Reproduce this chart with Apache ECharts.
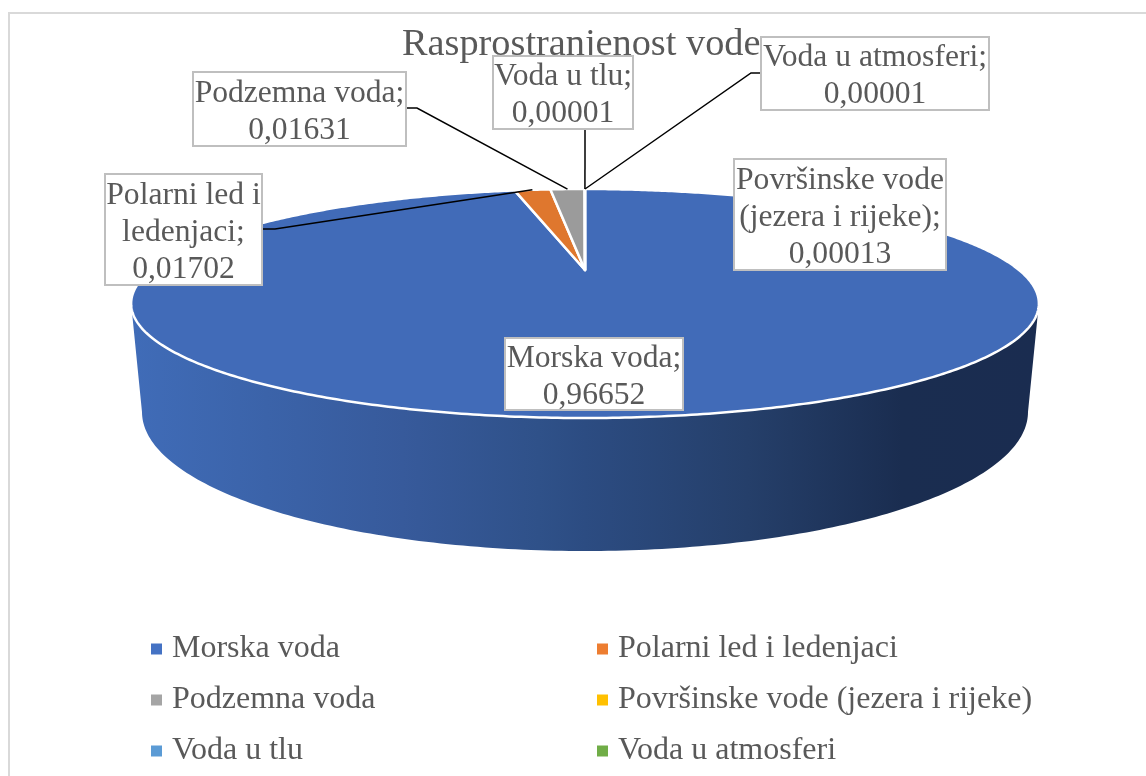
<!DOCTYPE html>
<html>
<head>
<meta charset="utf-8">
<title>Rasprostranjenost vode</title>
<script src="https://cdn.jsdelivr.net/npm/echarts@6/dist/echarts.min.js"></script>
<style>
  html, body { margin: 0; padding: 0; background: #fff; }
  #chart { width: 1146px; height: 776px; }
</style>
</head>
<body>
<div id="chart"></div>
<script>
// data
const categories = ['Morska voda', 'Polarni led i ledenjaci', 'Podzemna voda', 'Površinske vode (jezera i rijeke)', 'Voda u tlu', 'Voda u atmosferi'];
const values = [0.96652, 0.01702, 0.01631, 0.00013, 0.00001, 0.00001];
const labelNames = ['Morska voda;', 'Polarni led i\nledenjaci;', 'Podzemna voda;', 'Površinske vode\n(jezera i rijeke);', 'Voda u tlu;', 'Voda u atmosferi;'];

const legendColors = ['#4472c4', '#ed7d31', '#a5a5a5', '#ffc000', '#5b9bd5', '#70ad47'];
const sliceColors = ['#416bb8', '#df772e', '#9b9b9b', '#f0b400', '#5b9bd5', '#70ad47'];
const textColor = '#595959';
const serif = '"Liberation Serif", "Times New Roman", serif';

// label boxes [x0, y0, x1, y1] and the elbow of the leader line
const labelBoxes = [[505, 338, 683, 410], [105, 174, 262, 285], [193, 72, 406, 146], [734, 159, 946, 270], [493, 56, 633, 129], [761, 37, 989, 110]];
const leaderStarts = [null, [[262, 229], [275, 229]], [[406, 108], [417, 108]], null, [[585, 129]], [[761, 73], [751, 73]]];

// tilted disc: perspective projection of a unit circle
const cx = 585, apexY = 270, discR = 434, discA = 104.7, k = 0.2926;
// base of the wall
const baseRx = 443, baseCy = 412, baseRy = 139;

const TWO_PI = Math.PI * 2;
const total = values.reduce((a, b) => a + b, 0);
const starts = [];
values.reduce((acc, v, i) => { starts[i] = acc; return acc + v; }, 0);

function project(theta) {
  const d = 1 + k * Math.cos(theta);
  return [cx + discR * Math.sin(theta) / d, apexY - discA * Math.cos(theta) / d];
}

function arc(from, to) {
  const n = Math.max(2, Math.ceil((to - from) / 0.01));
  const pts = [];
  for (let i = 0; i <= n; i++) pts.push(project(from + (to - from) * i / n));
  return pts;
}

const frontStart = Math.acos(-k);
const frontEnd = TWO_PI - frontStart;

function basePoint(theta) {
  const t = (theta - frontStart) / (frontEnd - frontStart);
  const phi = Math.PI * t;
  return [cx + baseRx * Math.cos(phi), baseCy + baseRy * Math.sin(phi)];
}

function wallGradient() {
  return new echarts.graphic.LinearGradient(131, 0, 1038, 0, [
    { offset: 0, color: '#406cb8' },
    { offset: 0.15, color: '#3b63a9' },
    { offset: 0.3, color: '#375a9b' },
    { offset: 0.45, color: '#2f5189' },
    { offset: 0.5, color: '#2c4c82' },
    { offset: 0.68, color: '#253f6a' },
    { offset: 0.85, color: '#1a2d50' },
    { offset: 1, color: '#1a2c50' }
  ], true);
}

function renderSlice(index, params, api) {
  const value = api.value(0);
  const from = starts[index] / total * TWO_PI;
  const to = from + value / total * TWO_PI;
  const children = [];

  // side wall, only where the slice faces the viewer
  const lo = Math.max(from, frontStart);
  const hi = Math.min(to, frontEnd);
  if (hi > lo) {
    const top = arc(lo, hi);
    const base = [];
    const n = 180;
    for (let i = n; i >= 0; i--) base.push(basePoint(lo + (hi - lo) * i / n));
    children.push({
      type: 'polygon',
      z2: 1,
      shape: { points: top.concat(base) },
      style: { fill: wallGradient() }
    });
  }

  // top face
  children.push({
    type: 'polygon',
    z2: 2 + (index === 0 ? 0 : 1),
    shape: { points: [[cx, apexY]].concat(arc(from, to)) },
    style: { fill: sliceColors[index], stroke: '#fff', lineWidth: 2.5, lineJoin: 'round' }
  });

  // leader line to the rim
  if (leaderStarts[index]) {
    children.push({
      type: 'polyline',
      z2: 10,
      shape: { points: leaderStarts[index].concat([project((from + to) / 2)]) },
      style: { fill: null, stroke: '#000', lineWidth: 1.5 }
    });
  }

  // label box
  const box = labelBoxes[index];
  children.push({
    type: 'rect',
    z2: 20,
    shape: { x: box[0], y: box[1], width: box[2] - box[0], height: box[3] - box[1] },
    style: { fill: '#fff', stroke: '#bfbfbf', lineWidth: 2 }
  });
  children.push({
    type: 'text',
    z2: 21,
    style: {
      x: (box[0] + box[2]) / 2,
      y: (box[1] + box[3]) / 2 + 3,
      text: labelNames[index] + '\n' + value.toFixed(5).replace('.', ','),
      fill: textColor,
      font: '31.6px ' + serif,
      lineHeight: 37,
      align: 'center',
      verticalAlign: 'middle'
    }
  });

  return { type: 'group', children: children };
}

const series = categories.map((name, i) => ({
  type: 'custom',
  name: name,
  coordinateSystem: 'none',
  silent: true,
  animation: false,
  itemStyle: { color: legendColors[i] },
  data: [[values[i]]],
  renderItem: (params, api) => renderSlice(i, params, api)
}));

function legendColumn(names, left) {
  return {
    orient: 'vertical',
    left: left,
    top: 624,
    data: names,
    icon: 'rect',
    itemWidth: 11,
    itemHeight: 11,
    itemGap: 11,
    selectedMode: false,
    textStyle: { color: textColor, fontFamily: serif, fontSize: 32, lineHeight: 36, padding: [4, 0, 0, 5] }
  };
}

const chart = echarts.init(document.getElementById('chart'));
chart.setOption({
  backgroundColor: '#fff',
  animation: false,
  title: {
    text: 'Rasprostranjenost vode',
    left: 397,
    top: 21,
    z: 1,
    textStyle: { color: textColor, fontFamily: serif, fontSize: 38.3, fontWeight: 'normal' }
  },
  legend: [
    legendColumn([categories[0], categories[2], categories[4]], 146),
    legendColumn([categories[1], categories[3], categories[5]], 592)
  ],
  graphic: [{
    type: 'polyline',
    z: 0,
    silent: true,
    shape: { points: [[9, 776], [9, 13], [1146, 13]] },
    style: { fill: null, stroke: '#d9d9d9', lineWidth: 2 }
  }],
  series: series
});
</script>
</body>
</html>
